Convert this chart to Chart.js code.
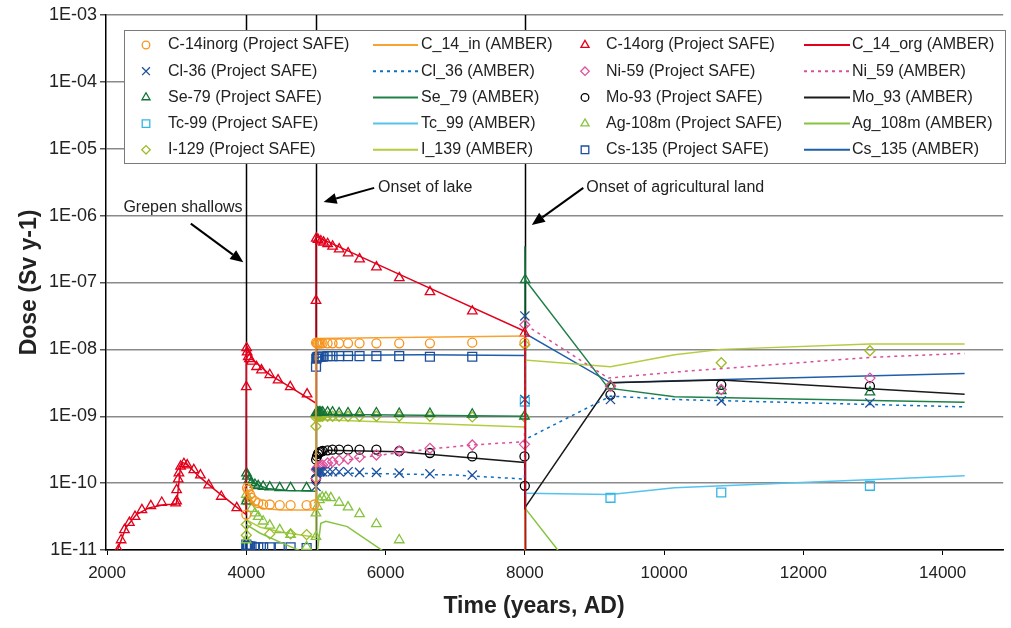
<!DOCTYPE html>
<html>
<head>
<meta charset="utf-8">
<script src="https://cdn.jsdelivr.net/npm/chart.js@4.4.1/dist/chart.umd.min.js"></script>
<style>
  html, body { margin: 0; padding: 0; background: #fff; overflow: hidden; }
  canvas { display: block; }
</style>
</head>
<body>
<canvas id="doseChart" width="1011" height="628"></canvas>
<script>
// ticks
const yearTicks = [2000, 4000, 6000, 8000, 10000, 12000, 14000];
const doseTicks = [1e-11, 1e-10, 1e-9, 1e-8, 1e-7, 1e-6, 1e-5, 1e-4, 1e-3];
const doseTickLabels = ['1E-11', '1E-10', '1E-09', '1E-08', '1E-07', '1E-06', '1E-05', '1E-04', '1E-03'];
const phaseYears = [4000, 5000, 8000];

// [year, dose] - Project SAFE markers and AMBER curves
const c14inorgSafe = [[4000,3.39e-11],[4010,8.5e-11],[4028,7.94e-11],[4053,6.76e-11],[4075,6.03e-11],[4124,5.37e-11],[4171,5.01e-11],[4242,4.79e-11],[4337,4.79e-11],[4480,4.68e-11],[4636,4.68e-11],[4866,4.68e-11],[4978,4.79e-11],
  [5002,1.26e-8],[5015,1.23e-8],[5030,1.23e-8],[5050,1.23e-8],[5070,1.23e-8],[5096,1.23e-8],[5167,1.23e-8],[5238,1.23e-8],[5333,1.23e-8],[5461,1.23e-8],[5626,1.23e-8],[5868,1.23e-8],[6196,1.23e-8],[6637,1.23e-8],[7245,1.26e-8],[7995,1.26e-8]];
const c14inAmber = [[4000,8.32e-11],[4050,6.03e-11],[4120,4.79e-11],[4250,4.17e-11],[4500,3.98e-11],[4995,3.98e-11],[5000,1.45e-8],[6500,1.52e-8],[8000,1.58e-8]];

const c14orgSafe = [[2164,1.0e-11],[2202,1.41e-11],[2250,2.0e-11],[2321,2.57e-11],[2402,3.16e-11],[2501,3.98e-11],[2629,4.57e-11],[2786,5.13e-11],[2985,5.01e-11],[2999,5.37e-11],[2999,7.94e-11],[3022,1.15e-10],[3032,1.41e-10],[3057,1.78e-10],[3104,1.95e-10],[3151,1.86e-10],[3246,1.58e-10],[3341,1.32e-10],[3460,9.33e-11],[3641,6.31e-11],[3863,4.27e-11],
  [4000,2.75e-9],[4005,1.05e-8],[4012,9.1e-9],[4028,7.76e-9],[4045,7.2e-9],[4075,6.61e-9],[4147,5.50e-9],[4218,4.90e-9],[4337,4.17e-9],[4456,3.47e-9],[4631,2.75e-9],[4873,2.14e-9],
  [5001,5.37e-8],[5005,4.57e-7],[5030,4.37e-7],[5070,4.17e-7],[5110,3.98e-7],[5168,3.80e-7],[5239,3.47e-7],[5334,3.16e-7],[5462,2.75e-7],[5627,2.24e-7],[5869,1.70e-7],[6197,1.17e-7],[6638,7.24e-8],[7246,3.72e-8],[7996,1.74e-8]];
const c14orgAmber = [[2140,9.5e-12],[2270,2.14e-11],[2420,3.39e-11],[2600,4.27e-11],[2840,4.79e-11],[2990,4.79e-11],[3010,6.0e-11],[3050,1.6e-10],[3080,2.04e-10],[3150,1.9e-10],[3320,1.26e-10],[3550,7.94e-11],[3790,5.01e-11],[3995,3.39e-11],
  [4000,1.12e-8],[4100,6.92e-9],[4340,4.17e-9],[4626,2.75e-9],[4995,1.58e-9],[5000,4.9e-7],[6200,1.32e-7],[8000,1.86e-8],[8015,1e-13]];

const cl36Safe = [[5000,8.91e-11],[5005,1.41e-10],[5015,1.45e-10],[5030,1.48e-10],[5050,1.48e-10],[5070,1.48e-10],[5096,1.48e-10],[5167,1.48e-10],[5238,1.48e-10],[5333,1.48e-10],[5461,1.48e-10],[5626,1.45e-10],[5868,1.45e-10],[6196,1.41e-10],[6637,1.38e-10],[7245,1.32e-10],
  [8000,3.16e-8],[8000,1.78e-9],[9230,1.78e-9],[10821,1.70e-9],[12956,1.58e-9]];
const cl36Amber = [[5000,1.35e-10],[5500,1.41e-10],[7000,1.32e-10],[7995,1.15e-10],[8000,4.47e-10],[9230,2.0e-9],[10150,1.78e-9],[14316,1.38e-9]];

const ni59Safe = [[5000,1.17e-10],[5005,1.58e-10],[5015,1.66e-10],[5030,1.74e-10],[5050,1.78e-10],[5070,1.82e-10],[5096,1.86e-10],[5167,2.0e-10],[5238,2.09e-10],[5333,2.19e-10],[5461,2.29e-10],[5626,2.45e-10],[5868,2.63e-10],[6196,3.02e-10],[6637,3.31e-10],[7245,3.72e-10],[7995,3.80e-10],
  [8000,2.34e-8],[9230,2.82e-9],[10821,2.51e-9],[12956,3.72e-9]];
const ni59Amber = [[5000,1.58e-10],[5200,2.0e-10],[5690,2.45e-10],[6170,2.82e-10],[6640,3.24e-10],[7245,3.72e-10],[7995,4.17e-10],[8005,2.34e-8],[9200,3.72e-9],[10150,4.57e-9],[12956,7.59e-9],[14316,8.71e-9]];

const se79Safe = [[4000,5.37e-11],[4003,1.41e-10],[4015,1.26e-10],[4040,1.12e-10],[4075,1.02e-10],[4124,9.55e-11],[4171,9.12e-11],[4242,8.91e-11],[4337,8.71e-11],[4480,8.51e-11],[4636,8.51e-11],[4866,8.51e-11],
  [5002,1.12e-9],[5015,1.15e-9],[5030,1.15e-9],[5050,1.15e-9],[5070,1.15e-9],[5096,1.15e-9],[5167,1.15e-9],[5238,1.15e-9],[5333,1.12e-9],[5461,1.12e-9],[5626,1.12e-9],[5868,1.12e-9],[6196,1.10e-9],[6637,1.10e-9],[7245,1.07e-9],[7995,1.0e-9],
  [8005,1.10e-7],[9230,2.82e-9],[10821,2.40e-9],[12956,2.29e-9]];
const se79Amber = [[4000,1.32e-10],[4100,1.0e-10],[4300,8.32e-11],[4600,7.76e-11],[4995,7.59e-11],[5000,1.07e-9],[7995,1.0e-9],[8000,3.47e-7],[8005,1.10e-7],[9200,2.63e-9],[10150,1.95e-9],[14316,1.62e-9]];

const mo93Safe = [[5000,1.17e-10],[5003,2.24e-10],[5015,2.51e-10],[5030,2.75e-10],[5050,2.88e-10],[5070,2.95e-10],[5096,3.02e-10],[5167,3.09e-10],[5238,3.16e-10],[5333,3.16e-10],[5461,3.16e-10],[5626,3.16e-10],[5868,3.16e-10],[6196,3.02e-10],[6637,2.82e-10],[7245,2.51e-10],[7995,2.51e-10],
  [8000,9.12e-11],[9230,2.09e-9],[10821,2.95e-9],[12956,2.82e-9]];
const mo93Amber = [[5000,2.24e-10],[5170,3.09e-10],[6200,2.95e-10],[8000,2.04e-10],[8000,4.27e-11],[9230,3.16e-9],[10821,3.47e-9],[14316,2.14e-9]];

const tc99Safe = [[8000,1.66e-9],[9230,6.03e-11],[10821,7.24e-11],[12956,9.12e-11]];
const tc99Amber = [[8000,7.08e-11],[9230,6.76e-11],[10150,8.51e-11],[14316,1.29e-10]];

const ag108mSafe = [[4000,6.76e-11],[4000,1.41e-11],[4010,5.9e-11],[4028,5.25e-11],[4075,4.17e-11],[4124,3.55e-11],[4171,3.16e-11],[4242,2.69e-11],[4337,2.34e-11],[4480,2.0e-11],[4636,1.70e-11],[4866,1.12e-11],
  [5000,3.55e-11],[5001,1.58e-11],[5020,4.47e-11],[5050,5.62e-11],[5090,6.17e-11],[5143,6.17e-11],[5214,6.03e-11],[5333,5.13e-11],[5461,4.37e-11],[5626,3.47e-11],[5868,2.45e-11],[6196,1.41e-11]];
const ag108mAmber = [[4000,2.4e-11],[4200,1.78e-11],[4500,1.29e-11],[4850,9.0e-12],[4995,7e-12],[5005,7e-12],[5070,2.5e-11],[5143,2.69e-11],[5450,2.24e-11],[5975,9.5e-12],[6100,7e-12],[7995,1e-13],[8000,4.27e-11],[8490,9.5e-12],[8600,7e-12]];

const i129Safe = [[4000,1.66e-11],[4000,2.4e-11],[4337,1.74e-11],[4636,1.74e-11],[4866,1.70e-11],
  [5000,7.08e-10],[5002,9.55e-10],[5015,1.0e-9],[5030,1.0e-9],[5050,1.0e-9],[5070,1.0e-9],[5096,1.0e-9],[5167,1.0e-9],[5238,1.0e-9],[5333,1.0e-9],[5461,1.0e-9],[5626,1.0e-9],[5868,1.0e-9],[6196,1.0e-9],[6637,1.0e-9],[7245,9.77e-10],[7995,9.77e-10],
  [8000,1.17e-8],[9230,2.88e-9],[10821,6.31e-9],[12956,9.55e-9]];
const i139Amber = [[4000,2.82e-11],[4200,2.19e-11],[4500,1.86e-11],[4995,1.55e-11],[5000,8.91e-10],[8000,6.92e-10],[8000,6.92e-9],[9230,5.50e-9],[10150,8.32e-9],[10821,1.0e-8],[12956,1.20e-8],[14316,1.20e-8]];

const cs135Safe = [[4000,1.20e-11],[4005,1.15e-11],[4012,1.12e-11],[4020,1.12e-11],[4028,1.12e-11],[4053,1.12e-11],[4075,1.12e-11],[4124,1.10e-11],[4171,1.10e-11],[4242,1.10e-11],[4337,1.10e-11],[4480,1.10e-11],[4636,1.10e-11],[4866,1.07e-11],
  [5001,5.50e-9],[5005,7.24e-9],[5015,7.59e-9],[5030,7.76e-9],[5050,7.76e-9],[5070,7.76e-9],[5096,7.76e-9],[5167,7.94e-9],[5238,7.94e-9],[5333,7.94e-9],[5461,7.94e-9],[5626,7.94e-9],[5868,7.94e-9],[6196,7.94e-9],[6637,7.76e-9],[7245,7.76e-9]];
const cs135Amber = [[5000,7.24e-9],[5100,8.13e-9],[6500,8.32e-9],[7995,8.13e-9],[8000,1.74e-8],[9230,3.16e-9],[10150,3.39e-9],[14316,4.37e-9]];

const FONT = "'Liberation Sans', Arial, sans-serif";

function pts(arr) {
  return arr.map(p => ({ x: p[0], y: p[1] }));
}

function marker(label, arr, color, style, radius) {
  return {
    label, data: pts(arr), kind: 'marker',
    showLine: false, pointStyle: style, pointRadius: radius,
    pointBorderColor: color, pointBackgroundColor: 'rgba(0,0,0,0)',
    pointBorderWidth: 1.3, borderColor: color
  };
}

function curve(label, arr, color, dash) {
  return {
    label, data: pts(arr), kind: 'line',
    showLine: true, pointRadius: 0, borderColor: color,
    borderWidth: 1.5, borderDash: dash || [], tension: 0, fill: false
  };
}

const datasets = [
  marker('C-14inorg (Project SAFE)', c14inorgSafe, '#f7941d', 'circle', 4.5),
  curve('C_14_in (AMBER)', c14inAmber, '#f7a233'),
  marker('C-14org (Project SAFE)', c14orgSafe, '#e3001b', 'triangle', 5.5),
  curve('C_14_org (AMBER)', c14orgAmber, '#e3001b'),
  marker('Cl-36 (Project SAFE)', cl36Safe, '#1c4f9c', 'crossRot', 6.5),
  curve('Cl_36 (AMBER)', cl36Amber, '#0b6fc0', [3, 4]),
  marker('Ni-59 (Project SAFE)', ni59Safe, '#e0529c', 'rectRot', 5),
  curve('Ni_59 (AMBER)', ni59Amber, '#d9509a', [3, 4]),
  marker('Se-79 (Project SAFE)', se79Safe, '#137336', 'triangle', 5.5),
  curve('Se_79 (AMBER)', se79Amber, '#1f8148'),
  marker('Mo-93 (Project SAFE)', mo93Safe, '#000000', 'circle', 4.5),
  curve('Mo_93 (AMBER)', mo93Amber, '#1a1a1a'),
  marker('Tc-99 (Project SAFE)', tc99Safe, '#33b5e5', 'rect', 6.3),
  curve('Tc_99 (AMBER)', tc99Amber, '#55c3ef'),
  marker('Ag-108m (Project SAFE)', ag108mSafe, '#86c440', 'triangle', 5.5),
  curve('Ag_108m (AMBER)', ag108mAmber, '#86c440'),
  marker('I-129 (Project SAFE)', i129Safe, '#9dbb2a', 'rectRot', 5),
  curve('I_139 (AMBER)', i139Amber, '#b2cd3f'),
  marker('Cs-135 (Project SAFE)', cs135Safe, '#1c4f9c', 'rect', 6.3),
  curve('Cs_135 (AMBER)', cs135Amber, '#1f5eaa')
];

// annotations in data units: [text, textYear, textDose, tailYear, tailDose, headYear, headDose]
const notes = [
  ['Grepen shallows', 2235, 1.3e-6, 3203, 7.6e-7, 3957, 2.0e-7],
  ['Onset of lake', 5893, 2.6e-6, 5836, 2.6e-6, 5110, 1.6e-6],
  ['Onset of agricultural land', 8883, 2.6e-6, 8840, 2.6e-6, 8100, 7.26e-7]
];

const phaseLines = {
  id: 'phaseLines',
  beforeDatasetsDraw(chart) {
    const { ctx, chartArea, scales } = chart;
    ctx.save();
    ctx.strokeStyle = '#000';
    ctx.lineWidth = 1.5;
    phaseYears.forEach(yr => {
      const x = Math.round(scales.x.getPixelForValue(yr)) + 0.5;
      ctx.beginPath();
      ctx.moveTo(x, chartArea.top);
      ctx.lineTo(x, chartArea.bottom);
      ctx.stroke();
    });
    ctx.restore();
  }
};

function drawArrow(ctx, x1, y1, x2, y2) {
  const ang = Math.atan2(y2 - y1, x2 - x1);
  const len = 13, wid = 5.5;
  const bx = x2 - Math.cos(ang) * len, by = y2 - Math.sin(ang) * len;
  ctx.beginPath();
  ctx.moveTo(x1, y1);
  ctx.lineTo(bx, by);
  ctx.stroke();
  ctx.beginPath();
  ctx.moveTo(x2, y2);
  ctx.lineTo(bx + Math.sin(ang) * wid, by - Math.cos(ang) * wid);
  ctx.lineTo(bx - Math.sin(ang) * wid, by + Math.cos(ang) * wid);
  ctx.closePath();
  ctx.fill();
}

const overlay = {
  id: 'overlay',
  afterDraw(chart) {
    const { ctx, scales } = chart;
    const sx = scales.x, sy = scales.y;
    ctx.save();

    // legend box
    const bx = 124, by = 30, bw = 881, bh = 133;
    ctx.fillStyle = '#fff';
    ctx.fillRect(bx, by, bw, bh);
    ctx.strokeStyle = '#7a7a7a';
    ctx.lineWidth = 1;
    ctx.strokeRect(bx + 0.5, by + 0.5, bw, bh);
    const markX = [146, null, 585, null];
    const lineX = [null, [373, 418], null, [804, 850]];
    const textX = [168, 421, 606, 852];
    ctx.textBaseline = 'middle';
    ctx.textAlign = 'left';
    chart.data.datasets.forEach((ds, i) => {
      const row = Math.floor(i / 4), col = i % 4;
      const y = 45 + row * 26.2;
      if (ds.kind === 'marker') {
        ctx.fillStyle = 'rgba(0,0,0,0)';
        ctx.strokeStyle = ds.pointBorderColor;
        ctx.lineWidth = 1.3;
        Chart.helpers.drawPoint(ctx, {
          pointStyle: ds.pointStyle, radius: ds.pointRadius * 0.85, borderWidth: 1.3
        }, markX[col], y);
      } else {
        ctx.strokeStyle = ds.borderColor;
        ctx.lineWidth = 2;
        ctx.setLineDash(ds.borderDash);
        ctx.beginPath();
        ctx.moveTo(lineX[col][0], y);
        ctx.lineTo(lineX[col][1], y);
        ctx.stroke();
        ctx.setLineDash([]);
      }
      ctx.font = '16px ' + FONT;
      ctx.fillStyle = '#222';
      ctx.fillText(ds.label, textX[col], y);
    });

    // annotations
    ctx.strokeStyle = '#000';
    ctx.lineWidth = 2;
    ctx.font = '16px ' + FONT;
    notes.forEach(n => {
      ctx.fillStyle = '#222';
      ctx.fillText(n[0], sx.getPixelForValue(n[1]), sy.getPixelForValue(n[2]));
      ctx.fillStyle = '#000';
      drawArrow(ctx, sx.getPixelForValue(n[3]), sy.getPixelForValue(n[4]),
        sx.getPixelForValue(n[5]), sy.getPixelForValue(n[6]));
    });

    // axis titles
    ctx.fillStyle = '#222';
    ctx.font = 'bold 23px ' + FONT;
    ctx.textAlign = 'center';
    ctx.fillText('Time (years, AD)', 534, 607);
    ctx.translate(30, (chart.chartArea.top + chart.chartArea.bottom) / 2);
    ctx.rotate(-Math.PI / 2);
    ctx.fillText('Dose (Sv y-1)', 0, 0);
    ctx.restore();
  }
};

const ctx = document.getElementById('doseChart').getContext('2d');
new Chart(ctx, {
  type: 'scatter',
  data: { datasets },
  options: {
    responsive: false,
    animation: false,
    devicePixelRatio: 1,
    layout: { padding: { top: 15, left: 0, right: 0, bottom: 0 } },
    plugins: {
      legend: { display: false },
      tooltip: { enabled: false }
    },
    scales: {
      x: {
        type: 'linear',
        min: 1985,
        max: 14870,
        afterBuildTicks: s => { s.ticks = yearTicks.map(v => ({ value: v })); },
        afterFit: s => { s.height = 78; },
        ticks: {
          font: { size: 17, family: FONT },
          color: '#222',
          padding: 8,
          maxRotation: 0,
          callback: v => String(v)
        },
        grid: { drawOnChartArea: false, tickLength: 5, color: '#000', lineWidth: 1 },
        border: { color: '#000', width: 1.5 }
      },
      y: {
        type: 'logarithmic',
        min: 1e-11,
        max: 1e-3,
        afterBuildTicks: s => { s.ticks = doseTicks.map(v => ({ value: v })); },
        afterFit: s => { s.width = 106; },
        ticks: {
          font: { size: 18, family: FONT },
          color: '#222',
          padding: 3,
          callback: v => doseTickLabels[doseTicks.findIndex(t => Math.abs(Math.log10(t) - Math.log10(v)) < 0.01)]
        },
        grid: { color: '#8a8a8a', lineWidth: 1.5, tickLength: 6, tickColor: '#555' },
        border: { color: '#000', width: 1.5 }
      }
    }
  },
  plugins: [phaseLines, overlay]
});
</script>
</body>
</html>
